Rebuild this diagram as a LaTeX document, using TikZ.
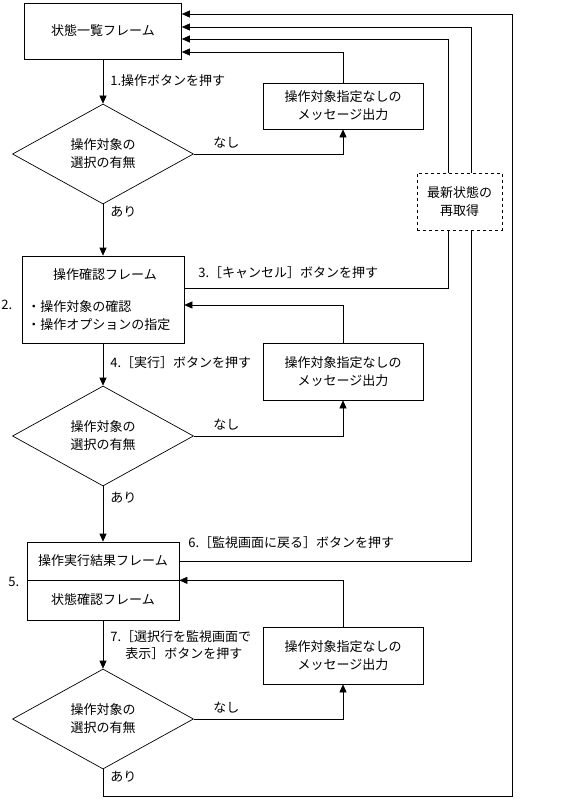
\documentclass[tikz,border=0pt]{standalone}
\usepackage{fontspec}
\setmainfont{Noto Sans CJK JP}
\usetikzlibrary{arrows.meta}
\usetikzlibrary{shapes.geometric}
\usetikzlibrary{positioning}

\begin{document}
\begin{tikzpicture}[
    x=1pt,y=-1pt,
    font=\fontsize{13pt}{18pt}\selectfont,
    line width=0.7pt,
    >={Triangle[length=8pt,width=7pt]},
    basic/.style={draw,align=center,inner sep=0pt},
    frame/.style={basic,rectangle},
    msg/.style={frame,minimum width=160pt,minimum height=57pt},
    cond/.style={basic,diamond,aspect=1.8,minimum width=181pt,minimum height=100pt},
    lbl/.style={anchor=west,inner sep=0pt},
]
    \useasboundingbox (0,0) rectangle (564,803);

    %frames
    \node[frame,minimum width=157pt,minimum height=56pt] (b1) at (103,31) {状態一覧フレーム};
    \node[frame,minimum width=162pt,minimum height=87pt] (b2) at (103,299.5) {};
    \node[inner sep=0pt] at (105,275) {操作確認フレーム};
    \node[lbl,align=left] at (27,316) {・操作対象の確認\\・操作オプションの指定};
    \node[frame,minimum width=152pt,minimum height=38pt] (b5a) at (103,561) {操作実行結果フレーム};
    \node[frame,minimum width=152pt,minimum height=40pt] (b5b) at (103,600) {状態確認フレーム};

    %checks
    \node[cond] (d1) at (103,154) {操作対象の\\選択の有無};
    \node[cond] (d2) at (103,436) {操作対象の\\選択の有無};
    \node[cond] (d3) at (103,719) {操作対象の\\選択の有無};

    %messages
    \node[msg,minimum height=46pt] (m1) at (343,106) {操作対象指定なしの\\メッセージ出力};
    \node[msg] (m2) at (343,371.5) {操作対象指定なしの\\メッセージ出力};
    \node[msg] (m3) at (343,655.5) {操作対象指定なしの\\メッセージ出力};
    \node[frame,dashed,minimum width=85pt,minimum height=57pt] (rq) at (459.5,201.5) {最新状態の\\再取得};

    %labels
    \node[lbl] at (110,81) {1.操作ボタンを押す};
    \node[lbl] at (110,212) {あり};
    \node[lbl] at (213,143) {なし};
    \node[lbl] at (198,273) {3.［キャンセル］ボタンを押す};
    \node[lbl] at (1,305) {2.};
    \node[lbl] at (110,363) {4.［実行］ボタンを押す};
    \node[lbl] at (213,425) {なし};
    \node[lbl] at (110,498) {あり};
    \node[lbl] at (188,543) {6.［監視画面に戻る］ボタンを押す};
    \node[lbl] at (8,582) {5.};
    \node[lbl] (t7) at (110,637) {7.［選択行を監視画面で};
    \node[lbl] at (125,654) {表示］ボタンを押す};
    \node[lbl] at (213,708) {なし};
    \node[lbl] at (110,777) {あり};

    \coordinate (c1) at (512,796);

    %main flow
    \draw[->] (b1) -- (d1);
    \draw[->] (d1) -- (b2);
    \draw[->] (b2) -- (d2);
    \draw[->] (d2) -- (b5a);
    \draw[->] (b5b) -- (d3);

    %no selection
    \draw[->] (d1.east) -| (m1.south);
    \draw[->] (d2.east) -| (m2.south);
    \draw[->] (d3.east) -| (m3.south);
    \draw[->] (m1.north) |- ([yshift=-21pt]b1.east);
    \draw[->] (m2.north) |- ([yshift=-5.5pt]b2.east);
    \draw[->] (m3.north) |- (b5a.south east);

    %back to list
    \draw ([yshift=11.5pt]b2.east) -| ([xshift=-11.5pt]rq.south);
    \draw[->] ([xshift=-11.5pt]rq.north) |- ([yshift=-8pt]b1.east);
    \draw (b5a.east) -| ([xshift=11.5pt]rq.south);
    \draw[->] ([xshift=11.5pt]rq.north) |- ([yshift=4pt]b1.east);
    \draw[->] (d3.south) |- (c1) |- ([yshift=17pt]b1.east);
\end{tikzpicture}
\end{document}
